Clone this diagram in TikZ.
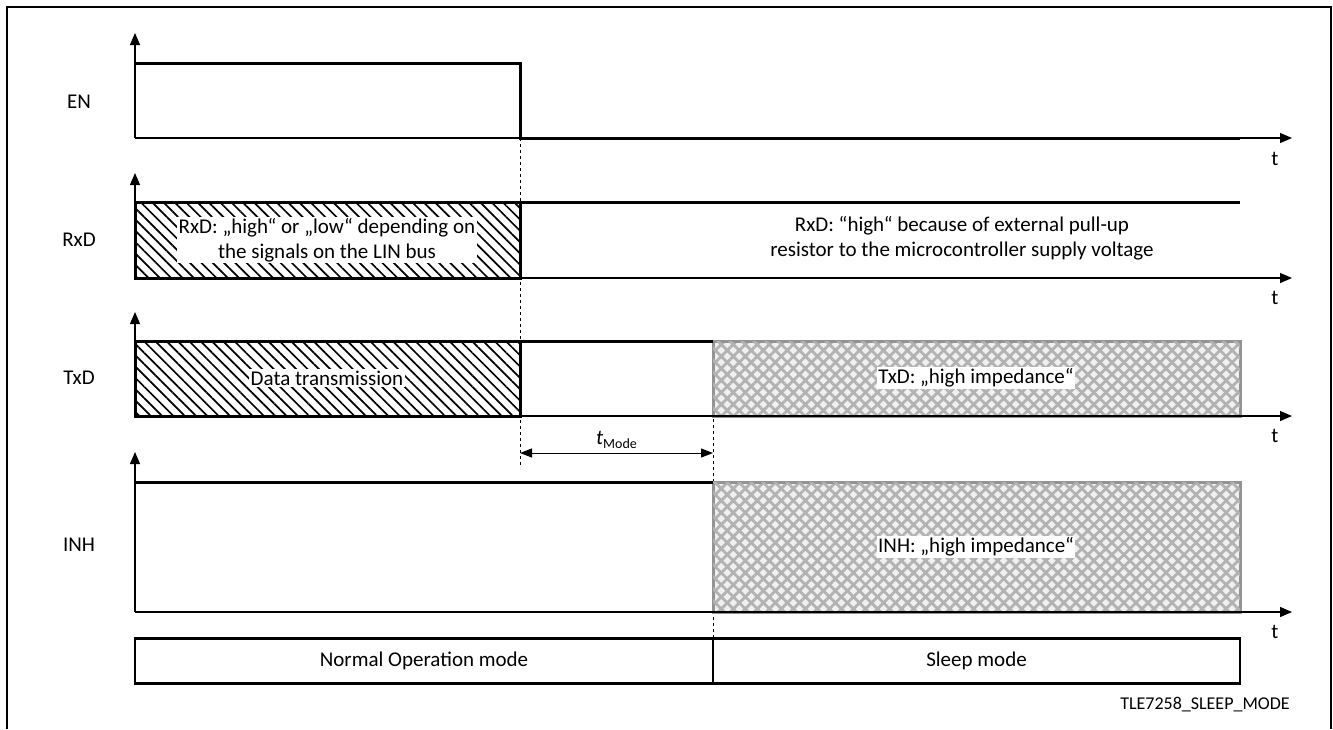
\documentclass[tikz,border=0pt]{standalone}
\usepackage{fontspec}
\setmainfont{Carlito}
\usetikzlibrary{positioning, arrows.meta, patterns.meta}

\begin{document}
\begin{tikzpicture}[
    x=1pt, y=-1pt,
    font=\fontsize{21}{25}\selectfont,
    axis/.style={-{Triangle[length=12pt, width=10pt]}, line width=1.3pt},
    level/.style={line width=3pt},
    hatchbox/.style={draw, line width=3pt,
        pattern={Lines[angle=-45, distance=8pt, line width=1.7pt]}},
    hizbox/.style={draw=gray!85, line width=3pt, preaction={fill=gray!12},
        pattern={Lines[angle=45, distance=8.5pt, line width=2.8pt]}, pattern color=gray!60,
        postaction={pattern={Lines[angle=-45, distance=8.5pt, line width=2.8pt]}, pattern color=gray!60}},
    siglabel/.style={anchor=center},
    tlabel/.style={anchor=center},
    boxtext/.style={fill=white, inner sep=1.5pt, align=center},
    modebox/.style={draw, line width=2.5pt, minimum height=45pt, outer sep=0pt, inner sep=0pt},
    dim/.style={{Triangle[length=12pt, width=9pt]}-{Triangle[length=12pt, width=9pt]}, line width=1pt}
]
    \useasboundingbox (0,0) rectangle (1333,729);

    % Frame
    \draw[line width=1.3pt] (7,729) -- (7,7) -- (1331,7) -- (1331,729);

    % Timing markers
    \draw[dashed, line width=0.8pt] (520,138) -- (520,468);
    \draw[dashed, line width=0.8pt] (713,341) -- (713,640);

    % EN
    \node[siglabel] (en) at (79,102) {EN};
    \draw[axis] (135,138) -- (135,33);
    \draw[axis] (135,138) -- (1292,138);
    \node[tlabel] (ent) at (1275,159) {t};
    \draw[level] (135,63) -- (520,63) -- (520,138) -- (1240,138);

    % RxD
    \node[siglabel] (rxd) at (79,240) {RxD};
    \draw[hatchbox] (135,202) rectangle (520,278);
    \node[boxtext] (rxdlin) at (327,240) {RxD: „high“ or „low“ depending on\\the signals on the LIN bus};
    \draw[axis] (135,278) -- (135,173);
    \draw[axis] (135,278) -- (1292,278);
    \node[tlabel] (rxdt) at (1275,298) {t};
    \draw[level] (520,202) -- (1240,202);
    \node[align=center] (rxdpull) at (962,238) {RxD: “high“ because of external pull-up\\resistor to the microcontroller supply voltage};

    % TxD
    \node[siglabel] (txd) at (79,378) {TxD};
    \draw[hatchbox] (135,341) rectangle (520,416);
    \node[boxtext] (txdata) at (327,378) {Data transmission};
    \draw[hizbox] (713,341) rectangle (1240,416);
    \node[boxtext] (txdhiz) at (976,378) {TxD: „high impedance“};
    \draw[axis] (135,416) -- (135,312);
    \draw[axis] (135,416) -- (1292,416);
    \node[tlabel] (txdt) at (1275,436) {t};
    \draw[level] (520,341) -- (713,341);

    % tMode
    \coordinate (m1) at (520,453);
    \coordinate (m2) at (713,453);
    \draw[dim] (m1) -- (m2) node[midway, above=1pt] (tmode) {\textit{t}\raisebox{-0.35ex}{\fontsize{14}{16}\selectfont Mode}};

    % INH
    \node[siglabel] (inh) at (79,545) {INH};
    \draw[hizbox] (713,482) rectangle (1240,612);
    \node[boxtext] (inhhiz) at (976,547) {INH: „high impedance“};
    \draw[axis] (135,612) -- (135,452);
    \draw[axis] (135,612) -- (1292,612);
    \node[tlabel] (inht) at (1275,632) {t};
    \draw[level] (135,482) -- (713,482);

    % Modes
    \node[modebox, minimum width=578pt] (normal) at (424,661) {Normal Operation mode};
    \node[modebox, minimum width=527pt, right=0pt of normal] (sleep) {Sleep mode};

    \node[font=\fontsize{18}{21}\selectfont] (fig) at (1205,705) {TLE7258\_SLEEP\_MODE};
\end{tikzpicture}
\end{document}
